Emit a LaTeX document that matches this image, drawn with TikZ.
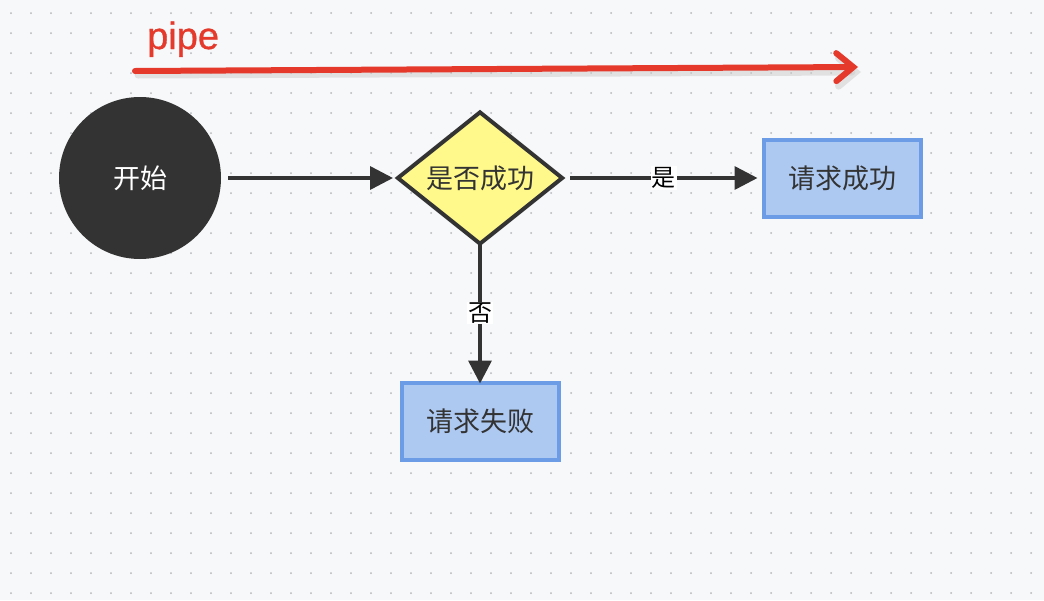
\documentclass[tikz,border=0pt]{standalone}
\usepackage{fontspec}
\setmainfont{Liberation Sans}
\newfontfamily\cjk{Noto Sans CJK SC}
\newfontfamily\pipefont[FakeBold=0.8]{Liberation Sans}
\usetikzlibrary{arrows.meta,shapes.geometric}
\definecolor{bgcol}{HTML}{F7F8FA}
\definecolor{dotcol}{HTML}{B4B6BA}
\definecolor{darkcol}{HTML}{333333}
\definecolor{yellowcol}{HTML}{FFF98C}
\definecolor{boxfill}{HTML}{ADC9F2}
\definecolor{boxline}{HTML}{6C9CE6}
\definecolor{pipecol}{HTML}{E4392B}
\tikzset{
  flowline/.style={draw=darkcol, line width=3.5pt, -{Triangle[length=23pt,width=23pt]}},
  flowbox/.style={draw=boxline, fill=boxfill, line width=4pt, minimum width=157pt, minimum height=77pt, font=\cjk\fontsize{27}{30}\selectfont, text=darkcol},
  answer/.style={fill=white, inner sep=1pt, font=\cjk\fontsize{24}{28}\selectfont, text=black}
}
\begin{document}
\begin{tikzpicture}[x=1pt,y=-1pt]
  \fill[bgcol] (0,0) rectangle (1044,600);
  \useasboundingbox (0,0) rectangle (1044,600);
  % dot grid
  \foreach \gx in {11,31,...,1031}
    \foreach \gy in {13,33,...,593}
      \fill[dotcol] (\gx,\gy) circle (1pt);
  % pipe arrow
  \draw[black!20, line width=7pt, line cap=round, opacity=0.5, -{Straight Barb[length=17pt,width=28pt,line cap=round]}] (138,75) -- (861,72);
  \draw[pipecol, line width=6pt, line cap=round, -{Straight Barb[length=17pt,width=28pt,line cap=round]}] (135,71) -- (858,67);
  \node[text=pipecol, font=\pipefont\fontsize{38}{44}\selectfont, anchor=base west, inner sep=0pt] (pipe) at (147,49) {pipe};
  % nodes
  \node[circle, fill=darkcol, minimum size=162pt, text=white, font=\cjk\fontsize{27}{30}\selectfont] (start) at (140,178) {开始};
  \node[diamond, draw=darkcol, fill=yellowcol, line width=4pt, minimum width=166pt, minimum height=124pt, inner sep=0pt, font=\cjk\fontsize{27}{30}\selectfont, text=darkcol] (check) at (480,178) {是否成功};
  \node[flowbox] (ok) at (842,178) {请求成功};
  \node[flowbox] (fail) at (480,421) {请求失败};
  % connectors
  \draw[flowline] (start.east) ++(7,0) -- ([xshift=-2pt]check.west);
  \draw[flowline] ([xshift=5pt]check.east) -- node[answer] {是} ([xshift=-4pt]ok.west);
  \draw[flowline] ([yshift=4pt]check.south) -- node[answer] {否} ([yshift=-3pt]fail.north);
\end{tikzpicture}
\end{document}
